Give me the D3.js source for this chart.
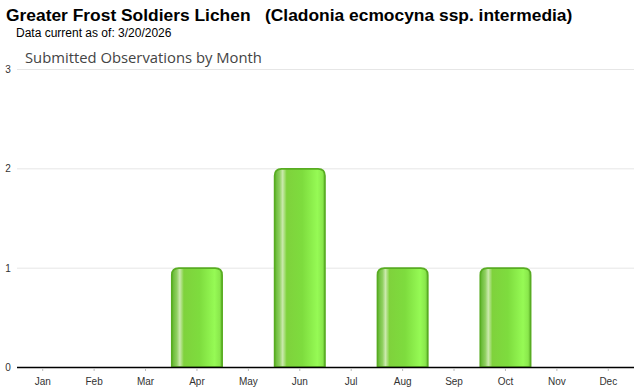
<!DOCTYPE html>
<html>
<head>
<meta charset="utf-8">
<script src="https://cdn.jsdelivr.net/npm/d3@7"></script>
<style>
  body { margin: 0; background: #fff; }
  svg { display: block; }
</style>
</head>
<body>
<svg id="chart" width="640" height="390"></svg>
<script>
var months = ['Jan', 'Feb', 'Mar', 'Apr', 'May', 'Jun', 'Jul', 'Aug', 'Sep', 'Oct', 'Nov', 'Dec'];
var counts = [0, 0, 0, 1, 0, 2, 0, 1, 0, 1, 0, 0];
var yTicks = [0, 1, 2, 3];

var svg = d3.select('#chart');
var plotLeft = 17, plotRight = 634, plotTop = 69, plotBottom = 367;

var x = d3.scaleBand().domain(months).range([plotLeft, plotRight]).padding(0);
var y = d3.scaleLinear().domain([0, 3]).range([plotBottom, plotTop]);

// titles
svg.append('text')
  .attr('x', 6).attr('y', 21)
  .style('font', 'bold 17.4px "Liberation Sans", Arial, sans-serif')
  .attr('xml:space', 'preserve')
  .text('Greater Frost Soldiers Lichen   (Cladonia ecmocyna ssp. intermedia)');

svg.append('text')
  .attr('x', 16).attr('y', 37)
  .style('font', '12px "Liberation Sans", Arial, sans-serif')
  .text('Data current as of: 3/20/2026');

svg.append('text')
  .attr('x', 25).attr('y', 63)
  .style('font', '14.8px "Open Sans", sans-serif')
  .style('fill', '#444')
  .text('Submitted Observations by Month');

// gradients for the bars
var defs = svg.append('defs');
var grad = defs.append('linearGradient').attr('id', 'barGrad')
  .attr('x1', '0%').attr('x2', '100%').attr('y1', '0%').attr('y2', '0%');
[[0, '#5fb52c'], [0.1, '#8fd060'], [0.16, '#cbe9ad'], [0.24, '#7fd23c'], [0.55, '#7edc3e'],
 [0.85, '#96fa55'], [0.95, '#8ae84c'], [1, '#5fb52c']].forEach(function(s) {
  grad.append('stop').attr('offset', s[0]).attr('stop-color', s[1]);
});

// gridlines
svg.append('g').selectAll('line').data(yTicks.filter(d => d > 0)).enter().append('line')
  .attr('x1', plotLeft).attr('x2', plotRight)
  .attr('y1', d => y(d) + 0.5).attr('y2', d => y(d) + 0.5)
  .attr('stroke', '#e6e6e6').attr('stroke-width', 1);

// y tick labels
svg.append('g').selectAll('text').data(yTicks).enter().append('text')
  .attr('x', 8).attr('y', d => y(d) + 4)
  .attr('text-anchor', 'middle')
  .style('font', '10px "Liberation Sans", Arial, sans-serif')
  .style('fill', '#333')
  .text(d => d);

// bars: rounded top, square bottom
function barPath(v, m) {
  var x0 = x(m) + 0.5, x1 = x(m) + x.bandwidth() - 0.5;
  var y0 = y(v) + 0.5, y1 = y(0), r = 7;
  return 'M' + x0 + ',' + y1 + 'L' + x0 + ',' + (y0 + r) +
    'Q' + x0 + ',' + y0 + ' ' + (x0 + r) + ',' + y0 +
    'L' + (x1 - r) + ',' + y0 +
    'Q' + x1 + ',' + y0 + ' ' + x1 + ',' + (y0 + r) +
    'L' + x1 + ',' + y1 + 'Z';
}

svg.append('g').selectAll('path')
  .data(counts.map((v, i) => ({ v: v, m: months[i] })).filter(d => d.v > 0))
  .enter().append('path')
  .attr('d', d => barPath(d.v, d.m))
  .attr('fill', 'url(#barGrad)')
  .attr('stroke', '#58ac22').attr('stroke-width', 1.6);

// baseline
svg.append('line')
  .attr('x1', plotLeft).attr('x2', plotRight)
  .attr('y1', plotBottom + 0.5).attr('y2', plotBottom + 0.5)
  .attr('stroke', '#000').attr('stroke-width', 1.5);

// month ticks and labels
svg.append('g').selectAll('line').data(months).enter().append('line')
  .attr('x1', d => x(d) + x.bandwidth() / 2).attr('x2', d => x(d) + x.bandwidth() / 2)
  .attr('y1', plotBottom + 1).attr('y2', plotBottom + 4)
  .attr('stroke', '#bbb');

svg.append('g').selectAll('text').data(months).enter().append('text')
  .attr('x', d => x(d) + x.bandwidth() / 2).attr('y', 385)
  .attr('text-anchor', 'middle')
  .style('font', '10px "Liberation Sans", Arial, sans-serif')
  .style('fill', '#333')
  .text(d => d);
</script>
</body>
</html>
